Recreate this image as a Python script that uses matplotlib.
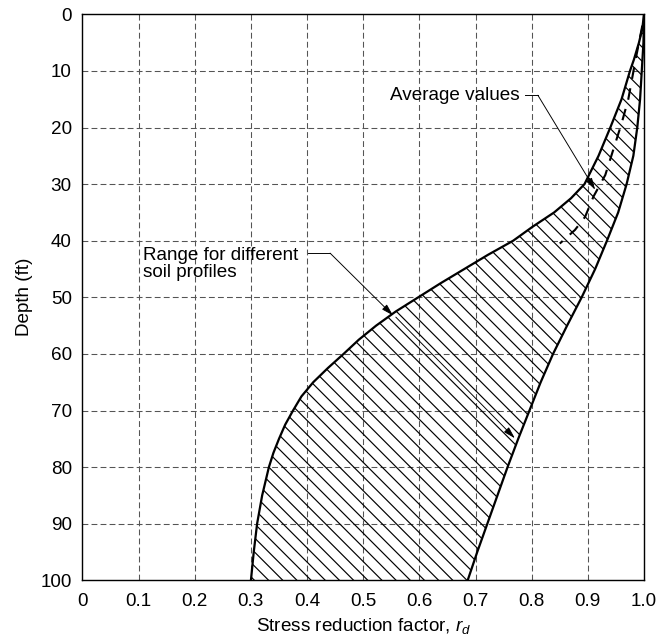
import matplotlib
matplotlib.use("Agg")
import matplotlib.pyplot as plt
import numpy as np

# --- STYLE SETTINGS ---
DPI = 85
plt.rcParams.update({
    'font.family': ['Liberation Sans', 'DejaVu Sans'],
    'font.size': 16,
    'hatch.linewidth': 1.0,
    'mathtext.fontset': 'custom',
    'mathtext.it': 'Liberation Sans:italic',
    'mathtext.rm': 'Liberation Sans',
})

# --- DATA ---
depth_lower = [0, 2.5, 5, 8, 10, 15, 20, 25, 30, 32.5, 35, 37.5, 40, 42.5, 45, 47.5, 50,
               52.5, 55, 57.5, 60, 62.5, 65, 67.5, 70, 72.5, 75, 77.5, 80, 85, 90, 95, 100]
rd_lower = [1.0, 0.997, 0.991, 0.982, 0.975, 0.960, 0.940, 0.919, 0.894, 0.870, 0.840, 0.802,
            0.767, 0.722, 0.680, 0.638, 0.598, 0.558, 0.523, 0.492, 0.465, 0.437, 0.411,
            0.390, 0.375, 0.361, 0.350, 0.340, 0.332, 0.320, 0.311, 0.305, 0.300]

depth_upper = [0, 5, 10, 15, 20, 25, 30, 35, 40, 45, 50, 55, 60, 65, 70, 75, 80, 85, 90, 95, 100]
rd_upper = [1.0, 0.999, 0.996, 0.993, 0.988, 0.981, 0.969, 0.954, 0.934, 0.913, 0.889, 0.863,
            0.838, 0.816, 0.796, 0.776, 0.757, 0.739, 0.721, 0.703, 0.686]

avg_depth = [2, 8, 15, 19.3, 24, 28.4, 32.2, 35.8, 38.1, 40.5]
rd_avg = [0.997, 0.985, 0.972, 0.960, 0.945, 0.931, 0.910, 0.895, 0.877, 0.850]

x_ticks = [0, 0.1, 0.2, 0.3, 0.4, 0.5, 0.6, 0.7, 0.8, 0.9, 1.0]
x_tick_labels = ['0', '0.1', '0.2', '0.3', '0.4', '0.5', '0.6', '0.7', '0.8', '0.9', '1.0']
y_ticks = [0, 10, 20, 30, 40, 50, 60, 70, 80, 90, 100]


def plot_rd_chart():
    fig = plt.figure(figsize=(664 / DPI, 642 / DPI), dpi=DPI)
    ax = fig.add_axes([0.1242, 0.0961, 0.8457, 0.8816])

    # grid
    for x in x_ticks[1:-1]:
        ax.axvline(x, color='#555555', lw=0.9, ls=(0, (5.5, 3)), zorder=0)
    for y in y_ticks[1:-1]:
        ax.axhline(y, color='#555555', lw=0.9, ls=(0, (5.5, 3)), zorder=0)

    # hatched band between the two bounding curves
    upper_on_lower = np.interp(depth_lower, depth_upper, rd_upper)
    ax.fill_betweenx(depth_lower, rd_lower, upper_on_lower, facecolor='none',
                     edgecolor='black', hatch='\\\\', linewidth=0, zorder=1)
    ax.plot(rd_lower, depth_lower, color='black', lw=1.9, zorder=3, solid_joinstyle='round')
    ax.plot(rd_upper, depth_upper, color='black', lw=1.9, zorder=3, solid_joinstyle='round')

    # average line
    ax.plot(rd_avg, avg_depth, color='black', lw=1.8, ls=(0, (5.5, 4.5)), zorder=3)

    # annotations
    arrow = dict(arrowstyle='-|>,head_length=0.7,head_width=0.2', lw=0.8, color='black',
                 mutation_scale=12, shrinkA=0, shrinkB=0)
    ax.text(0.779, 14.3, 'Average values', ha='right', va='center')
    ax.plot([0.788, 0.811], [14.3, 14.3], color='black', lw=0.8, zorder=4)
    ax.annotate('', xy=(0.913, 31.0), xytext=(0.811, 14.3), arrowprops=arrow, zorder=4)

    ax.text(0.108, 44.1, 'Range for different\nsoil profiles', ha='left', va='center',
            linespacing=0.95)
    ax.plot([0.402, 0.441], [42.2, 42.2], color='black', lw=0.8, zorder=4)
    ax.annotate('', xy=(0.553, 53.2), xytext=(0.441, 42.2), arrowprops=arrow, zorder=4)
    ax.annotate('', xy=(0.770, 74.9), xytext=(0.558, 53.5), arrowprops=arrow, zorder=4)

    # axes
    ax.set_xlim(0, 1.0)
    ax.set_ylim(100, 0)
    ax.set_xticks(x_ticks)
    ax.set_xticklabels(x_tick_labels)
    ax.set_yticks(y_ticks)
    ax.tick_params(length=0, labelsize=16)
    ax.tick_params(axis='x', pad=11)
    ax.tick_params(axis='y', pad=9)
    for s in ax.spines.values():
        s.set_linewidth(1.2)
        s.set_color('black')
    ax.set_xlabel('Stress reduction factor, $r_d$', labelpad=5)
    ax.set_ylabel('Depth (ft)', labelpad=6)

    fig.savefig('out.png', dpi=DPI)


if __name__ == "__main__":
    plot_rd_chart()
